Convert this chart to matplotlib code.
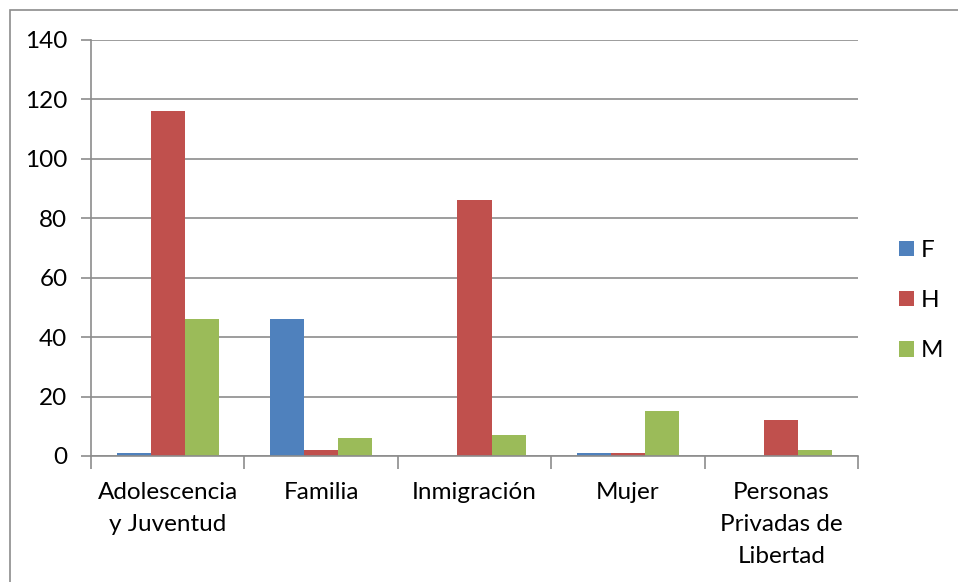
import matplotlib.pyplot as plt
import numpy as np
from matplotlib.patches import Rectangle

categories = ["Adolescencia\ny Juventud", "Familia", "Inmigración", "Mujer",
              "Personas\nPrivadas de\nLibertad"]
series = ["F", "H", "M"]
f_vals = [1, 46, 0, 1, 0]
h_vals = [116, 2, 86, 1, 12]
m_vals = [46, 6, 7, 15, 2]
colors = ["#4F81BD", "#C0504D", "#9BBB59"]

plt.rcParams['font.family'] = ['Lato', 'DejaVu Sans']

W, H = 958, 582
fig = plt.figure(figsize=(W / 100, H / 100), dpi=100)
ax = fig.add_axes([91 / W, 1 - 456 / H, (858 - 91) / W, (456 - 40) / H])

fig.patches.append(Rectangle((10 / W, -0.1), 1.2, 1 - 10 / H + 0.1,
                             transform=fig.transFigure, fill=False,
                             edgecolor="#8c8c8c", lw=1.2))

x = np.arange(len(categories))
bw = 1 / 4.5
for i, (vals, name, c) in enumerate(zip([f_vals, h_vals, m_vals], series, colors)):
    ax.bar(x + (i - 1) * bw, vals, bw, color=c, label=name, zorder=3)

ax.set_xlim(-0.5, len(categories) - 0.5)
ax.set_ylim(0, 140)
ax.set_yticks(range(0, 141, 20))
ax.yaxis.grid(True, color="#8c8c8c", lw=1.2, zorder=0)
for s in ["top", "right"]:
    ax.spines[s].set_visible(False)
for s in ["left", "bottom"]:
    ax.spines[s].set_color("#8c8c8c")
    ax.spines[s].set_linewidth(1.2)
    ax.spines[s].set_zorder(4)

fs = 17.5
ax.set_xticks(np.arange(-0.5, len(categories), 1))
ax.set_xticklabels([])
ax.set_xticks(x, minor=True)
ax.set_xticklabels(categories, minor=True, fontsize=fs, linespacing=1.65)
ax.tick_params(axis="x", which="major", length=9, color="#8c8c8c", width=1.2)
ax.tick_params(axis="x", which="minor", length=0, pad=19)
ax.tick_params(axis="y", length=7, color="#8c8c8c", width=1.2, labelsize=fs, pad=10)

ax.legend(loc="center left", bbox_to_anchor=(1.025, 0.373), frameon=False,
          fontsize=fs, handlelength=0.6, handleheight=0.6,
          handletextpad=0.3, labelspacing=1.2)

fig.savefig("out.png", dpi=100)
